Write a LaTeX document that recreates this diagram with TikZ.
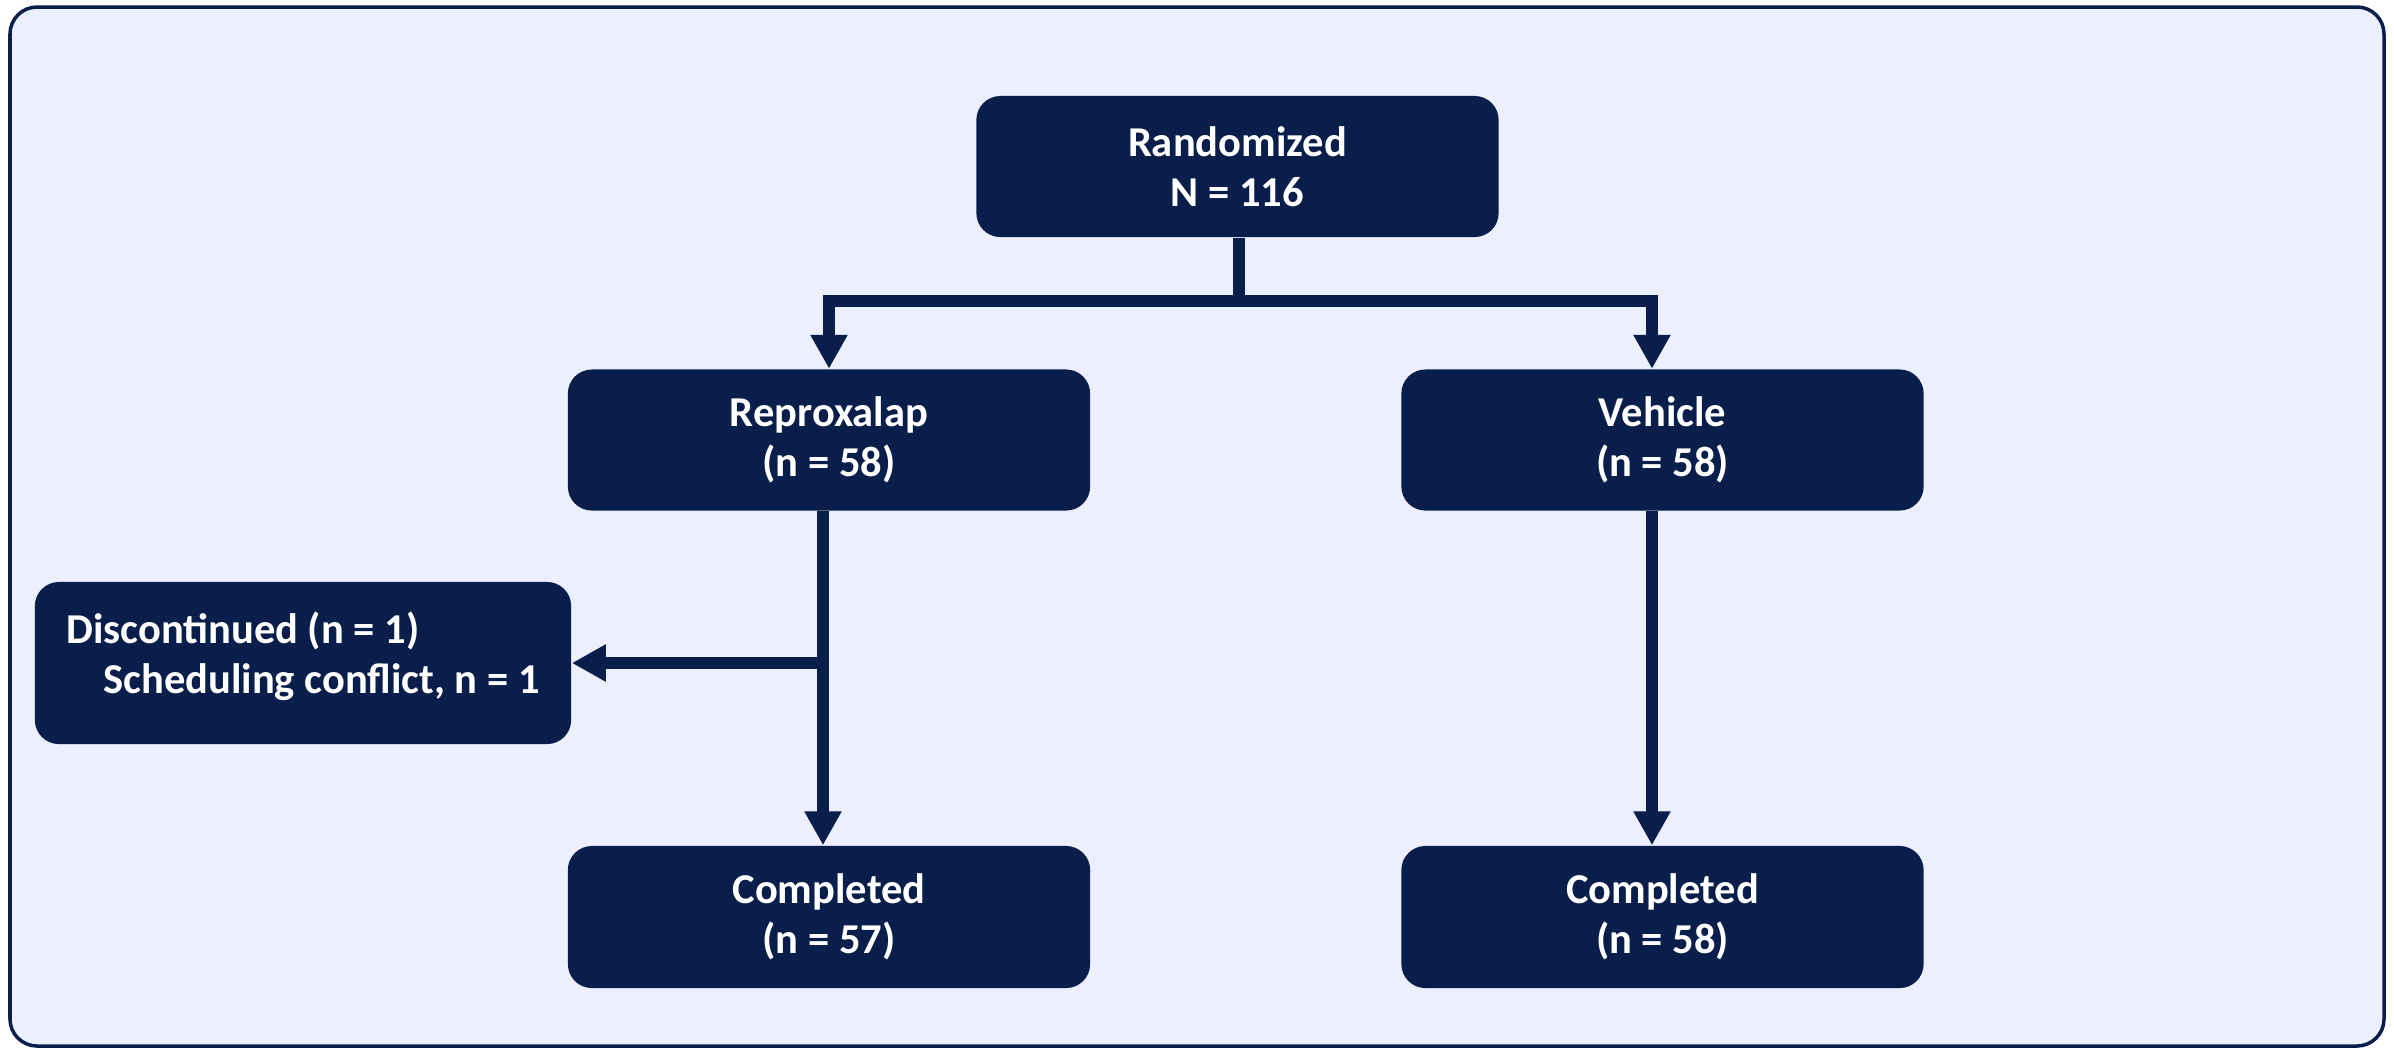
\documentclass[tikz,border=0pt]{standalone}
\usepackage{fontspec}
\setmainfont{Carlito}
\usetikzlibrary{arrows.meta}
\definecolor{navy}{HTML}{091E4A}
\definecolor{bgblue}{HTML}{ECF0FE}
\tikzset{
  box/.style={fill=navy, rounded corners=0.24cm, inner sep=0pt, align=center,
    text=white, font=\fontsize{12.1}{14.3}\selectfont\bfseries,
    minimum width=5.22cm, minimum height=1.41cm},
  conn/.style={draw=navy, line width=0.115cm, line join=miter,
    -{Triangle[length=0.34cm, width=0.35cm]}},
}
\begin{document}
\begin{tikzpicture}[x=0.01cm, y=-0.01cm]
\useasboundingbox (0,0) rectangle (2394,1050);
\draw[fill=bgblue, draw=navy, line width=0.035cm, rounded corners=0.27cm] (10,7) rectangle (2384,1046);
\node[box] (rand) at (1237.5,166.5) {Randomized\\N = 116};
\node[box] (repro) at (829,440) {Reproxalap\\(n = 58)};
\node[box] (veh) at (1662.5,440) {Vehicle\\(n = 58)};
\node[box, minimum width=5.36cm, minimum height=1.62cm, align=left] (disc) at (303,663)
  {Discontinued (n = 1)\\\hspace*{0.37cm}Scheduling conflict, n = 1\\[-0.3cm]\mbox{}};
\node[box, minimum height=1.42cm] (compl) at (829,917) {Completed\\(n = 57)};
\node[box, minimum height=1.42cm] (compr) at (1662.5,917) {Completed\\(n = 58)};
\coordinate (bar) at (1239,301);
\coordinate (vin) at ([xshift=-0.105cm]veh.north);
\coordinate (lout) at ([xshift=-0.06cm]repro.south);
\coordinate (vout) at ([xshift=-0.105cm]veh.south);
\draw[conn] (rand.south -| bar) -- (bar) -| (repro.north);
\draw[conn] (bar) -| (vin);
\draw[conn] (lout) -- (lout |- compl.north);
\draw[conn] (vout) -- (vout |- compr.north);
\draw[conn] (lout |- disc.east) -- (disc.east);
\end{tikzpicture}
\end{document}
